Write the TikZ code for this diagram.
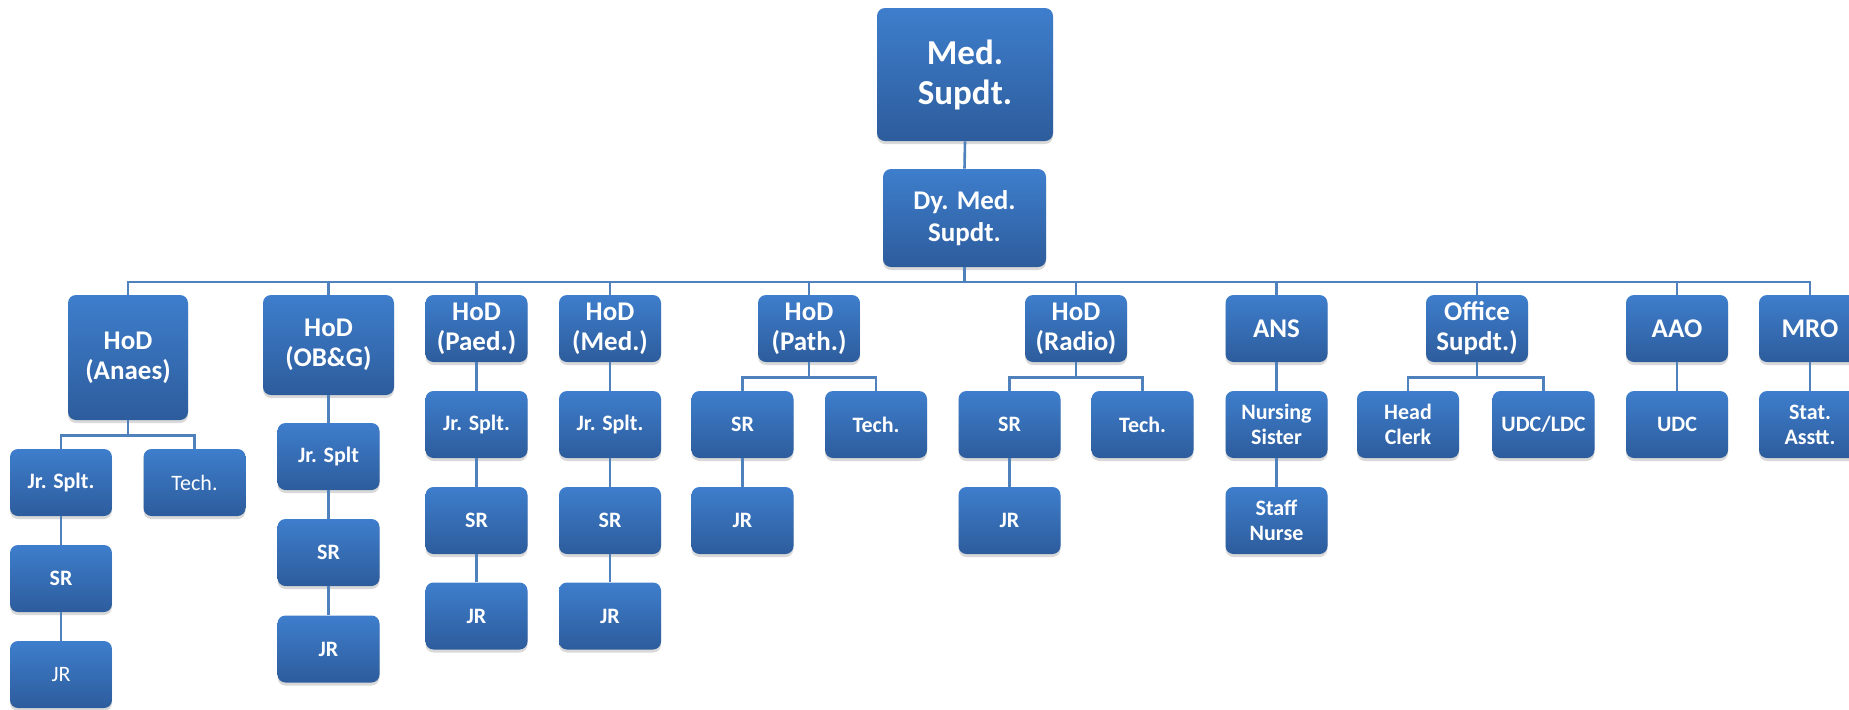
\documentclass[tikz,border=0pt]{standalone}
\usepackage{fontspec}
\setmainfont{Carlito}
\usetikzlibrary{shadows}
\definecolor{boxtop}{RGB}{62,126,204}
\definecolor{boxbot}{RGB}{45,92,156}
\definecolor{linkblue}{RGB}{79,129,189}

\begin{document}
\begin{tikzpicture}[x=0.5pt,y=-0.5pt,
  post/.style={rectangle, rounded corners=4pt, top color=boxtop, bottom color=boxbot, draw=none, text=white, align=center, inner sep=0pt, minimum width=51pt, minimum height=33.5pt, font=\bfseries\fontsize{11}{12.5}\selectfont, drop shadow={shadow xshift=0pt, shadow yshift=-1.5pt, opacity=0.3}},
  head/.style={post, font=\bfseries\fontsize{13.5}{15}\selectfont},
  lightpost/.style={post, font=\fontsize{11}{12.5}\selectfont},
  link/.style={draw=linkblue, line width=1.3pt}]
  \useasboundingbox (0,0) rectangle (1849,709);

  \node[head, minimum width=88pt, minimum height=66.5pt, font=\bfseries\fontsize{17.5}{20}\selectfont] (med) at (965,74.5) {Med.\\Supdt.};
  \node[head, minimum width=81.5pt, minimum height=49pt, font=\bfseries\fontsize{13.5}{16}\selectfont] (dymed) at (964.5,218) {Dy. Med.\\Supdt.};

  \node[head, minimum width=60pt, minimum height=62.5pt] (anaes) at (128,357.5) {HoD\\(Anaes)};
  \node[head, minimum width=65.5pt, minimum height=50pt] (obg) at (328.5,345) {HoD\\(OB\&G)};
  \node[head] (paed) at (476.5,328.5) {HoD\\(Paed.)};
  \node[head] (hmed) at (610,328.5) {HoD\\(Med.)};
  \node[head] (path) at (809,328.5) {HoD\\(Path.)};
  \node[head] (radio) at (1076,328.5) {HoD\\(Radio)};
  \node[head] (ans) at (1276.5,328.5) {ANS};
  \node[head] (office) at (1477,328.5) {Office\\Supdt.)};
  \node[head] (aao) at (1677,328.5) {AAO};
  \node[head] (mro) at (1810,328.5) {MRO};

  \node[post] (ajs) at (61,482.5) {Jr. Splt.};
  \node[lightpost] (atech) at (194.5,482.5) {Tech.};
  \node[post] (asr) at (61,578.5) {SR};
  \node[lightpost] (ajr) at (61,674.5) {JR};

  \node[post] (ojs) at (328.5,456.5) {Jr. Splt};
  \node[post] (osr) at (328.5,552.5) {SR};
  \node[post] (ojr) at (328.5,649) {JR};

  \node[post] (pjs) at (476.5,424.5) {Jr. Splt.};
  \node[post] (psr) at (476.5,520.5) {SR};
  \node[post] (pjr) at (476.5,616) {JR};

  \node[post] (mjs) at (610,424.5) {Jr. Splt.};
  \node[post] (msr) at (610,520.5) {SR};
  \node[post] (mjr) at (610,616) {JR};

  \node[post] (thsr) at (742.5,424.5) {SR};
  \node[post] (thtech) at (876,424.5) {Tech.};
  \node[post] (thjr) at (742.5,520.5) {JR};

  \node[post] (rsr) at (1009.5,424.5) {SR};
  \node[post] (rtech) at (1142.5,424.5) {Tech.};
  \node[post] (rjr) at (1009.5,520.5) {JR};

  \node[post] (nsis) at (1276.5,424.5) {Nursing\\Sister};
  \node[post] (snurse) at (1276.5,520.5) {Staff\\Nurse};

  \node[post] (hclerk) at (1408,424.5) {Head\\Clerk};
  \node[post] (udcldc) at (1543.5,424.5) {UDC/LDC};
  \node[post] (udc) at (1677,424.5) {UDC};
  \node[post] (stat) at (1810,424.5) {Stat.\\Asstt.};

  \draw[link] (med.south) -- (dymed.north);
  \coordinate (bus) at (0,282);
  \foreach \n in {anaes,obg,paed,hmed,path,radio,ans,office,aao,mro}
    \draw[link] (dymed.south) -- (dymed.south |- bus) -| (\n.north);
  \foreach \p/\c in {anaes/ajs,anaes/atech,path/thsr,path/thtech,radio/rsr,radio/rtech,office/hclerk,office/udcldc}
    \draw[link] (\p.south) -- ++(0,15) -| (\c.north);
  \foreach \a/\b in {ajs/asr,asr/ajr,obg/ojs,ojs/osr,osr/ojr,paed/pjs,pjs/psr,psr/pjr,hmed/mjs,mjs/msr,msr/mjr,thsr/thjr,rsr/rjr,ans/nsis,nsis/snurse,aao/udc,mro/stat}
    \draw[link] (\a.south) -- (\b.north);
\end{tikzpicture}
\end{document}
